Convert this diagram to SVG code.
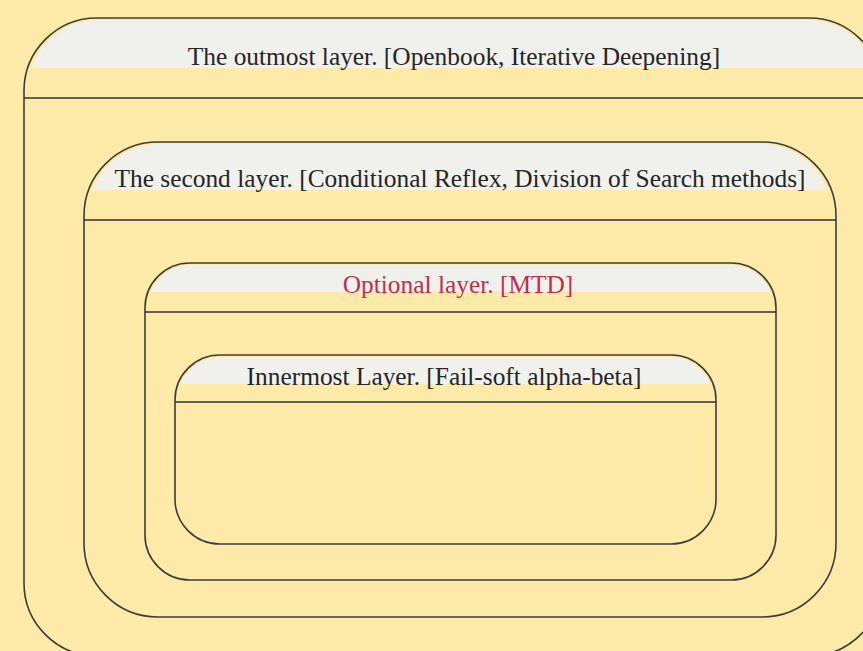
<svg xmlns="http://www.w3.org/2000/svg" width="863" height="651" viewBox="0 0 863 651">
<defs>
<linearGradient id="hl" x1="0" y1="0" x2="0" y2="1">
<stop offset="0" stop-color="#efefeb"/>
<stop offset="1" stop-color="#fafaf7"/>
</linearGradient>
<clipPath id="c1"><rect x="24" y="18" width="858" height="50"/></clipPath>
<clipPath id="c2"><rect x="84" y="142" width="752" height="48"/></clipPath>
<clipPath id="c3"><rect x="145" y="263" width="631" height="29"/></clipPath>
<clipPath id="c4"><rect x="175" y="355" width="541" height="29"/></clipPath>
</defs>
<style>
.box{fill:none;stroke:#3c3c3c;stroke-width:1.6}
.sep{stroke:#2e2e2e;stroke-width:1.4}
.hl{fill:url(#hl)}
.t{font-family:"Liberation Serif","Times New Roman",serif;font-size:25.4px;fill:#252525;text-anchor:middle}
.red{fill:#c0304a}
</style>
<rect x="0" y="0" width="863" height="651" fill="#feeaa8"/>
<g id="layer-outmost">
<rect class="hl" x="28" y="20" width="850" height="634" rx="70" clip-path="url(#c1)"/>
<rect class="box" x="24" y="18" width="858" height="638" rx="73"/>
<line class="sep" x1="24" y1="98" x2="882" y2="98"/>
<text class="t" x="454" y="65">The outmost layer. [Openbook, Iterative Deepening]</text>
</g>
<g id="layer-second">
<rect class="hl" x="88" y="144" width="744" height="471" rx="71" clip-path="url(#c2)"/>
<rect class="box" x="84" y="142" width="752" height="475" rx="74"/>
<line class="sep" x1="84" y1="220" x2="836" y2="220"/>
<text class="t" x="460" y="187">The second layer. [Conditional Reflex, Division of Search methods]</text>
</g>
<g id="layer-optional">
<rect class="hl" x="148" y="265" width="625" height="313" rx="42" clip-path="url(#c3)"/>
<rect class="box" x="145" y="263" width="631" height="317" rx="45"/>
<line class="sep" x1="145" y1="312" x2="776" y2="312"/>
<text class="t red" x="458" y="293">Optional layer. [MTD]</text>
</g>
<g id="layer-innermost">
<rect class="hl" x="178" y="357" width="535" height="185" rx="42" clip-path="url(#c4)"/>
<rect class="box" x="175" y="355" width="541" height="189" rx="45"/>
<line class="sep" x1="175" y1="402" x2="716" y2="402"/>
<text class="t" x="444" y="385">Innermost Layer. [Fail-soft alpha-beta]</text>
</g>
<g id="connectors"/>
</svg>
